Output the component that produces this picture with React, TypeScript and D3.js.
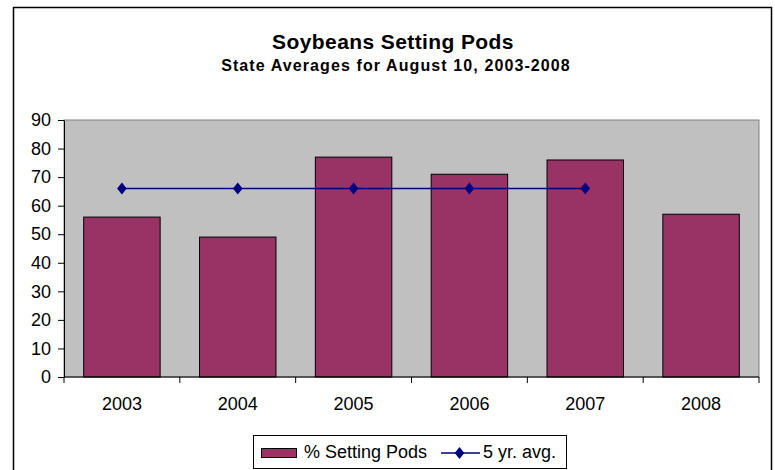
import { useEffect, useRef } from 'react'
import * as d3 from 'd3'

const YEARS = ['2003', '2004', '2005', '2006', '2007', '2008']
const SETTING_PODS = [56, 49, 77, 71, 76, 57]
const FIVE_YR_AVG: (number | null)[] = [66, 66, 66, 66, 66, null]
const Y_TICKS = [0, 10, 20, 30, 40, 50, 60, 70, 80, 90]

const WIDTH = 775
const HEIGHT = 470
const PLOT_LEFT = 64
const PLOT_RIGHT = 759
const PLOT_TOP = 120
const PLOT_BOTTOM = 377
const FONT = '"Liberation Sans", Arial, sans-serif'
const BAR_COLOR = '#993366'
const LINE_COLOR = '#000080'
const LABEL_SIZE = 18

// wider-than-d3 diamond, like the Excel marker
const excelDiamond: d3.SymbolType = {
  draw(ctx, size) {
    const h = Math.sqrt(size) * 0.75
    const w = h * 0.8
    ctx.moveTo(0, -h)
    ctx.lineTo(w, 0)
    ctx.lineTo(0, h)
    ctx.lineTo(-w, 0)
    ctx.closePath()
  },
}

export default function App() {
  const svgRef = useRef<SVGSVGElement>(null)

  useEffect(() => {
    const el = svgRef.current
    if (!el) return
    const svg = d3.select(el)
    svg.selectAll('*').remove()

    // outer chart border
    svg
      .append('rect')
      .attr('x', 13.5)
      .attr('y', 7.5)
      .attr('width', 758)
      .attr('height', 470)
      .attr('fill', '#fff')
      .attr('stroke', '#000')
      .attr('stroke-width', 1.5)

    svg
      .append('text')
      .attr('x', 393)
      .attr('y', 49)
      .attr('text-anchor', 'middle')
      .attr('font-family', FONT)
      .attr('font-weight', 'bold')
      .attr('font-size', 21)
      .attr('letter-spacing', 0.4)
      .text('Soybeans Setting Pods')

    svg
      .append('text')
      .attr('x', 396)
      .attr('y', 71)
      .attr('text-anchor', 'middle')
      .attr('font-family', FONT)
      .attr('font-weight', 'bold')
      .attr('font-size', 16)
      .attr('letter-spacing', 1.1)
      .text('State Averages for August 10, 2003-2008')

    const x = d3
      .scaleBand<string>()
      .domain(YEARS)
      .range([PLOT_LEFT, PLOT_RIGHT])
      .paddingInner(0.34)
      .paddingOuter(0.17)

    const xOuter = d3.scaleBand<string>().domain(YEARS).range([PLOT_LEFT, PLOT_RIGHT])

    const y = d3.scaleLinear().domain([0, 90]).range([PLOT_BOTTOM, PLOT_TOP])

    svg
      .append('rect')
      .attr('x', PLOT_LEFT)
      .attr('y', PLOT_TOP)
      .attr('width', PLOT_RIGHT - PLOT_LEFT)
      .attr('height', PLOT_BOTTOM - PLOT_TOP)
      .attr('fill', '#c0c0c0')
      .attr('stroke', '#808080')
      .attr('stroke-width', 1)

    svg
      .append('g')
      .selectAll('rect')
      .data(SETTING_PODS)
      .join('rect')
      .attr('x', (_, i) => x(YEARS[i]) ?? 0)
      .attr('y', (d) => y(d))
      .attr('width', x.bandwidth())
      .attr('height', (d) => PLOT_BOTTOM - y(d))
      .attr('fill', BAR_COLOR)
      .attr('stroke', '#000')
      .attr('stroke-width', 1)

    const yAxis = d3
      .axisLeft(y)
      .tickValues(Y_TICKS)
      .tickSize(6)
      .tickPadding(7)
      .tickSizeOuter(0)

    svg
      .append('g')
      .attr('transform', `translate(${PLOT_LEFT},0)`)
      .call(yAxis)
      .call((sel) => sel.selectAll('.domain, .tick line').attr('stroke', '#000'))
      .call((sel) =>
        sel
          .selectAll('.tick text')
          .attr('fill', '#000')
          .attr('font-family', FONT)
          .attr('font-size', LABEL_SIZE)
      )

    // x axis: line + ticks at category boundaries
    const xAxisG = svg.append('g')
    xAxisG
      .append('line')
      .attr('x1', PLOT_LEFT)
      .attr('x2', PLOT_RIGHT)
      .attr('y1', PLOT_BOTTOM)
      .attr('y2', PLOT_BOTTOM)
      .attr('stroke', '#000')
    const boundaries = [...YEARS.map((yr) => xOuter(yr) ?? 0), PLOT_RIGHT]
    xAxisG
      .selectAll('line.tk')
      .data(boundaries)
      .join('line')
      .attr('class', 'tk')
      .attr('x1', (d) => d)
      .attr('x2', (d) => d)
      .attr('y1', PLOT_BOTTOM)
      .attr('y2', PLOT_BOTTOM + 6)
      .attr('stroke', '#000')
    xAxisG
      .selectAll('text')
      .data(YEARS)
      .join('text')
      .attr('x', (d) => (xOuter(d) ?? 0) + xOuter.bandwidth() / 2)
      .attr('y', 410)
      .attr('text-anchor', 'middle')
      .attr('font-family', FONT)
      .attr('font-size', LABEL_SIZE)
      .text((d) => d)

    const line = d3
      .line<number | null>()
      .defined((d) => d != null)
      .x((_, i) => (xOuter(YEARS[i]) ?? 0) + xOuter.bandwidth() / 2)
      .y((d) => y(d ?? 0))

    svg
      .append('path')
      .datum(FIVE_YR_AVG)
      .attr('fill', 'none')
      .attr('stroke', LINE_COLOR)
      .attr('stroke-width', 1.5)
      .attr('d', line)

    const diamond = d3.symbol().type(excelDiamond).size(64)
    svg
      .append('g')
      .selectAll('path')
      .data(FIVE_YR_AVG.map((v, i) => ({ v, yr: YEARS[i] })).filter((d) => d.v != null))
      .join('path')
      .attr(
        'transform',
        (d) => `translate(${(xOuter(d.yr) ?? 0) + xOuter.bandwidth() / 2},${y(d.v as number)})`
      )
      .attr('d', diamond)
      .attr('fill', LINE_COLOR)

    // legend
    const lg = svg.append('g')
    lg.append('rect')
      .attr('x', 253.5)
      .attr('y', 435.5)
      .attr('width', 313)
      .attr('height', 33)
      .attr('fill', '#fff')
      .attr('stroke', '#000')
    lg.append('rect')
      .attr('x', 261.5)
      .attr('y', 448.5)
      .attr('width', 35)
      .attr('height', 9)
      .attr('fill', BAR_COLOR)
      .attr('stroke', '#000')
    lg.append('text')
      .attr('x', 304)
      .attr('y', 458)
      .attr('font-family', FONT)
      .attr('font-size', LABEL_SIZE)
      .text('% Setting Pods')
    lg.append('line')
      .attr('x1', 441)
      .attr('x2', 480)
      .attr('y1', 453)
      .attr('y2', 453)
      .attr('stroke', LINE_COLOR)
      .attr('stroke-width', 1.5)
    lg.append('path')
      .attr('transform', 'translate(459.5,453)')
      .attr('d', diamond)
      .attr('fill', LINE_COLOR)
    lg.append('text')
      .attr('x', 483)
      .attr('y', 458)
      .attr('font-family', FONT)
      .attr('font-size', LABEL_SIZE)
      .text('5 yr. avg.')
  }, [])

  return (
    <div style={{ position: 'absolute', left: 0, top: 0 }}>
      <svg ref={svgRef} width={WIDTH} height={HEIGHT} style={{ display: 'block' }} />
    </div>
  )
}
